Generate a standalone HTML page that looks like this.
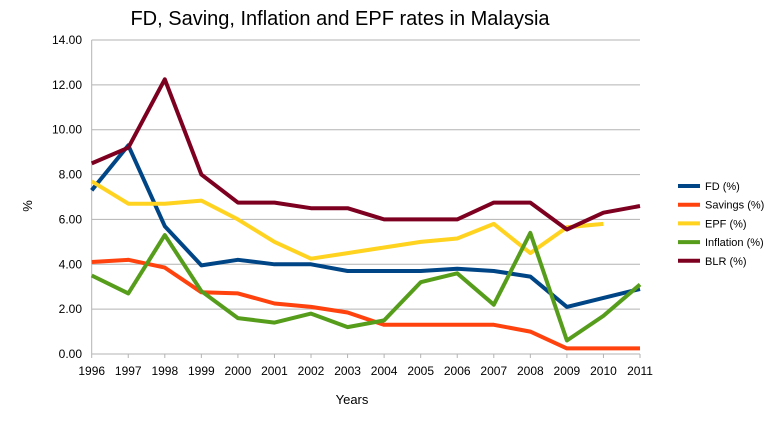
<!DOCTYPE html>
<html><head><meta charset="utf-8"><style>
body{margin:0;background:#fff;font-family:"Liberation Sans",sans-serif}
svg text{font-family:"Liberation Sans",sans-serif}
</style></head><body>
<svg id="c" width="766" height="419" viewBox="0 0 766 419">
<text x="340" y="25" font-size="20" text-anchor="middle">FD, Saving, Inflation and EPF rates in Malaysia</text>
<text x="352" y="404" font-size="13" text-anchor="middle">Years</text>
<text x="28" y="210" font-size="13" text-anchor="middle" transform="rotate(-90 28 206)">%</text>
<g id="grid"></g><g id="lines"></g><g id="legend"></g>
</svg>
<script>
const years=[1996,1997,1998,1999,2000,2001,2002,2003,2004,2005,2006,2007,2008,2009,2010,2011];
const yTicks=[0,2,4,6,8,10,12,14];
const fd=[7.3,9.3,5.7,3.95,4.2,4.0,4.0,3.7,3.7,3.7,3.8,3.7,3.45,2.1,2.5,2.9];
const savings=[4.1,4.2,3.85,2.75,2.7,2.25,2.1,1.85,1.3,1.3,1.3,1.3,1.0,0.25,0.25,0.25];
const epf=[7.7,6.7,6.7,6.84,6.0,5.0,4.25,4.5,4.75,5.0,5.15,5.8,4.5,5.65,5.8,null];
const inflation=[3.5,2.7,5.3,2.8,1.6,1.4,1.8,1.2,1.5,3.2,3.6,2.2,5.4,0.6,1.7,3.1];
const blr=[8.5,9.2,12.25,8.0,6.75,6.75,6.5,6.5,6.0,6.0,6.0,6.75,6.75,5.55,6.3,6.6];
const seriesNames=["FD (%)","Savings (%)","EPF (%)","Inflation (%)","BLR (%)"];
const seriesData=[fd,savings,epf,inflation,blr];
const colors=["#004586","#ff420e","#ffd320","#579d1c","#7e0021"];
const NS="http://www.w3.org/2000/svg";
const x0=91.7,x1=640,y0=354,y1=40;
const xs=i=>x0+(x1-x0)*(i/(years.length-1));
const ys=v=>y0-(y0-y1)*(v/14);
function mk(t,a,p){const e=document.createElementNS(NS,t);for(const k in a)e.setAttribute(k,a[k]);p.appendChild(e);return e;}
const g=document.getElementById('grid');
yTicks.forEach(t=>{
  const l=mk('line',{x1:x0,x2:x1,y1:ys(t),y2:ys(t),stroke:'#b3b3b3','stroke-width':1},g);
  
  
  const tx=mk('text',{x:82,y:ys(t)+4,'font-size':12,'text-anchor':'end'},g);
  tx.textContent=t.toFixed(2);
  
  
});
mk('line',{x1:x0,x2:x0,y1:y1,y2:y0,stroke:'#b3b3b3'},g);
years.forEach((y,i)=>{
  mk('line',{x1:xs(i),x2:xs(i),y1:y0,y2:y0+4,stroke:'#b3b3b3'},g);
  const tx=mk('text',{x:xs(i),y:375,'font-size':12,'text-anchor':'middle'},g);
  tx.textContent=y;
  
  
});
const L=document.getElementById('lines');
seriesData.forEach((d,s)=>{
  const pts=d.map((v,i)=>v==null?null:xs(i).toFixed(1)+','+ys(v).toFixed(1)).filter(p=>p);
  const pl=mk('polyline',{points:pts.join(' '),fill:'none',stroke:colors[s],'stroke-width':4,'stroke-linejoin':'round'},L);
  
  
});
const lg=document.getElementById('legend');
seriesNames.forEach((n,s)=>{
  const y=186+s*18.7;
  const l=mk('line',{x1:678,x2:700,y1:y,y2:y,stroke:colors[s],'stroke-width':4},lg);
  
  
  const tx=mk('text',{x:705,y:y+4,'font-size':11},lg);
  tx.textContent=n;
  
  
});
</script>
</body></html>
